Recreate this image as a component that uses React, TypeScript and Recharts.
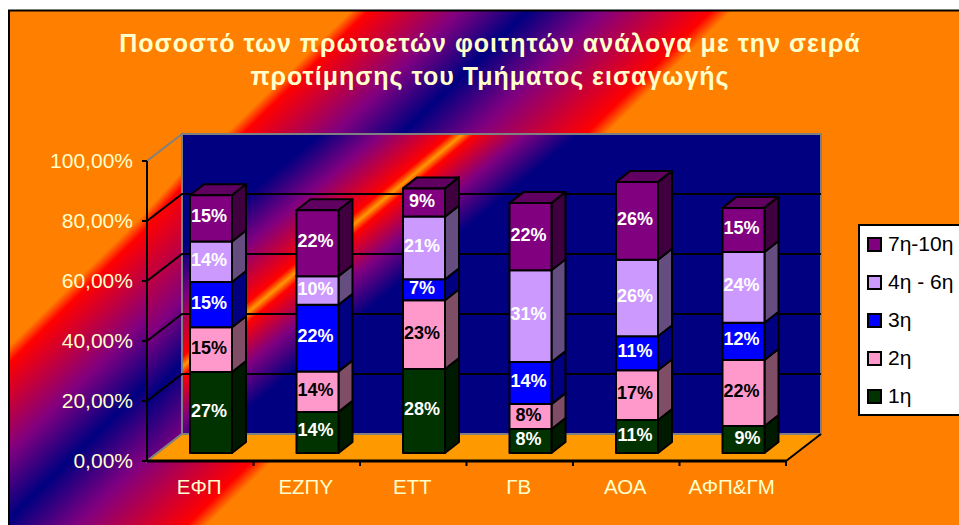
import React from 'react';
import {
  BarChart,
  Bar,
  XAxis,
  YAxis,
  CartesianGrid,
  Legend,
  LabelList,
} from 'recharts';

const categories = ['ΕΦΠ', 'ΕΖΠΥ', 'ΕΤΤ', 'ΓΒ', 'ΑΟΑ', 'ΑΦΠ&ΓΜ'];
const first = [27, 13.7, 28, 8, 11, 9];
const second = [14.9, 13.5, 22.9, 8.3, 16.6, 22];
const third = [15.1, 22.2, 7, 14, 11.3, 12.4];
const fourthToSixth = [13.5, 9.5, 20.9, 30.6, 25.5, 23.6];
const seventhToTenth = [15.4, 22, 9.4, 22.4, 25.9, 14.7];
const yTicks = [0, 20, 40, 60, 80, 100];
const titleLines = [
  'Ποσοστό των πρωτοετών φοιτητών ανάλογα με την σειρά',
  'προτίμησης του Τμήματος εισαγωγής',
];

const data = categories.map((name, i) => ({
  name,
  s1: first[i],
  s2: second[i],
  s3: third[i],
  s4: fourthToSixth[i],
  s5: seventhToTenth[i],
}));

const series = [
  { key: 's1', name: '1η', fill: '#003300', side: '#001a00', top: '#002600', label: '#fff' },
  { key: 's2', name: '2η', fill: '#ff99cc', side: '#804d66', top: '#bf7399', label: '#000' },
  { key: 's3', name: '3η', fill: '#0000ff', side: '#000080', top: '#0000bf', label: '#fff' },
  { key: 's4', name: '4η - 6η', fill: '#cc99ff', side: '#664d80', top: '#9973bf', label: '#fff' },
  { key: 's5', name: '7η-10η', fill: '#800080', side: '#400040', top: '#600060', label: '#fff' },
];

const WIDTH = 959;
const HEIGHT = 525;
const PLOT = { left: 147, right: 786, top: 161, bottom: 461 };
const DEPTH = { x: 35, y: -27 }; // back wall offset
const BAR_SHIFT = { x: 11, y: -8 }; // bars stand in the middle of the floor
const BAR_DEPTH = { x: 14, y: -11 };
const CREAM = '#ffffcc';
const FONT = '"Liberation Sans", Arial, sans-serif';

// gradient whose colour depends only on a*x + y, stops given in that unit
const Band = ({ id, a, stops }: any) => {
  const max = stops[stops.length - 1][0];
  const k = max / (a * a + 1);
  return (
    <linearGradient id={id} gradientUnits="userSpaceOnUse" x1={0} y1={0} x2={a * k} y2={k}>
      {stops.map(([v, c]: any) => (
        <stop key={v} offset={v / max} stopColor={c} />
      ))}
    </linearGradient>
  );
};

const Backdrop = () => {
  const { left, right, top, bottom } = PLOT;
  const bl = left + DEPTH.x;
  const br = right + DEPTH.x;
  const bt = top + DEPTH.y;
  const bb = bottom + DEPTH.y;
  return (
    <svg width={WIDTH} height={HEIGHT} style={{ position: 'absolute', left: 0, top: 0 }}>
      <defs>
        <Band
          id="pageFill"
          a={0.98}
          stops={[
            [0, '#ff8000'],
            [355, '#ff8000'],
            [372, '#ff0000'],
            [462, '#800080'],
            [528, '#000080'],
            [600, '#800080'],
            [708, '#ff0000'],
            [728, '#ff8000'],
            [1600, '#ff8000'],
          ]}
        />
        <Band
          id="wallFill"
          a={0.83}
          stops={[
            [0, '#000080'],
            [400, '#000080'],
            [450, '#800080'],
            [508, '#ff0000'],
            [518, '#ff9900'],
            [528, '#ff0000'],
            [570, '#800080'],
            [615, '#000080'],
            [1300, '#000080'],
          ]}
        />
        <Band
          id="sideFill"
          a={1.1}
          stops={[
            [0, '#ff8000'],
            [372, '#ff8000'],
            [387, '#ff0000'],
            [500, '#800080'],
            [563, '#000080'],
            [640, '#800080'],
          ]}
        />
      </defs>
      <rect x={9} y={10.5} width={WIDTH} height={HEIGHT} fill="url(#pageFill)" stroke="#000" strokeWidth={2} />
      {titleLines.map((line, i) => (
        <text
          key={line}
          x={490}
          y={52 + i * 33}
          textAnchor="middle"
          fill={CREAM}
          fontFamily={FONT}
          fontWeight="bold"
          fontSize={25}
          letterSpacing={1}
        >
          {line}
        </text>
      ))}
      <polygon
        points={`${left},${bottom} ${left},${top} ${bl},${bt} ${bl},${bb}`}
        fill="url(#sideFill)"
        stroke="#808080"
        strokeWidth={2}
      />
      <rect x={bl} y={bt} width={br - bl} height={bb - bt} fill="url(#wallFill)" stroke="#808080" strokeWidth={2} />
      <polygon
        points={`${left},${bottom} ${right},${bottom} ${br},${bb} ${bl},${bb}`}
        fill="#ff9900"
      />
      <line x1={left} y1={bottom} x2={bl} y2={bb} stroke="#808080" strokeWidth={2} />
      <line x1={bl} y1={bb} x2={br} y2={bb} stroke="#808080" strokeWidth={2} />
      <line x1={right} y1={bottom} x2={br} y2={bb} stroke="#000" strokeWidth={2} />
    </svg>
  );
};

// wall lines: diagonal over the side wall, then straight along the back
const WallLine = (props: any) => {
  const { x1, y1, x2 } = props;
  if (y1 <= PLOT.top + 1 || y1 >= PLOT.bottom - 1) return <g />;
  return (
    <polyline
      points={`${x1},${y1} ${x1 + DEPTH.x},${y1 + DEPTH.y} ${x2 + DEPTH.x},${y1 + DEPTH.y}`}
      fill="none"
      stroke="#000"
      strokeWidth={2}
    />
  );
};

const Box3D = (props: any) => {
  const { x, y, width, height, fill, side, top } = props;
  const l = x + BAR_SHIFT.x;
  const r = l + width;
  const t = y + BAR_SHIFT.y;
  const b = t + height;
  const dx = BAR_DEPTH.x;
  const dy = BAR_DEPTH.y;
  return (
    <g stroke="#000" strokeWidth={2} strokeLinejoin="round">
      <polygon points={`${l},${t} ${r},${t} ${r + dx},${t + dy} ${l + dx},${t + dy}`} fill={top} />
      <polygon points={`${r},${t} ${r + dx},${t + dy} ${r + dx},${b + dy} ${r},${b}`} fill={side} />
      <rect x={l} y={t} width={width} height={height} fill={fill} />
    </g>
  );
};

const BarLabel = (props: any) => {
  const { x, y, width, height, value, color, index, seriesKey } = props;
  // the 9% of the last column sits off centre in the original
  const nudge = seriesKey === 's1' && index === 5 ? 4 : -2;
  return (
    <text
      x={x + width / 2 + BAR_SHIFT.x + nudge}
      y={y + height / 2 + BAR_SHIFT.y + 4}
      textAnchor="middle"
      fill={color}
      fontFamily={FONT}
      fontWeight="bold"
      fontSize={18}
    >
      {Math.round(value)}%
    </text>
  );
};

const CategoryTick = (props: any) => {
  const { x, y, payload } = props;
  const half = (PLOT.right - PLOT.left) / categories.length / 2;
  return (
    <g>
      <line x1={x + half} y1={PLOT.bottom} x2={x + half} y2={PLOT.bottom + 5} stroke="#000" strokeWidth={2} />
      <text x={x - 1} y={y + 25} textAnchor="middle" fill={CREAM} fontFamily={FONT} fontSize={20.5}>
        {payload.value}
      </text>
    </g>
  );
};

const ValueTick = (props: any) => {
  const { x, y, payload } = props;
  return (
    <text x={x - 7} y={y + 7} textAnchor="end" fill={CREAM} fontFamily={FONT} fontSize={21}>
      {payload.value.toFixed(2).replace('.', ',')}%
    </text>
  );
};

const LegendBox = (props: any) => {
  const items = [...(props.payload || [])].reverse();
  return (
    <div
      style={{
        boxSizing: 'border-box',
        width: 120,
        height: 192,
        background: '#fff',
        border: '2px solid #000',
        padding: '0 0 0 7px',
        fontFamily: FONT,
        fontSize: 21,
        color: '#000',
      }}
    >
      <div style={{ marginTop: -1 }}>
        {items.map((item: any) => (
          <div key={item.value} style={{ display: 'flex', alignItems: 'center', height: 38, whiteSpace: 'nowrap' }}>
            <span
              style={{
                boxSizing: 'border-box',
                width: 15,
                height: 15,
                marginRight: 6,
                background: item.color,
                border: '2px solid #000',
              }}
            />
            {item.value}
          </div>
        ))}
      </div>
    </div>
  );
};

const App: React.FC = () => {
  return (
    <div style={{ position: 'absolute', left: 0, top: 0, width: WIDTH, height: HEIGHT, overflow: 'hidden', background: '#fff' }}>
      <Backdrop />
      <div style={{ position: 'absolute', left: 0, top: 0 }}>
        <BarChart
          width={WIDTH}
          height={HEIGHT}
          data={data}
          margin={{ top: PLOT.top, right: WIDTH - PLOT.right, left: 0, bottom: 0 }}
          barSize={42}
        >
          <CartesianGrid vertical={false} horizontal={WallLine} />
          <XAxis
            dataKey="name"
            height={HEIGHT - PLOT.bottom}
            axisLine={{ stroke: '#000', strokeWidth: 3 }}
            tickLine={false}
            tick={CategoryTick}
            interval={0}
          />
          <YAxis
            width={PLOT.left}
            domain={[0, 100]}
            ticks={yTicks}
            axisLine={{ stroke: '#000', strokeWidth: 2 }}
            tickLine={{ stroke: '#000', strokeWidth: 2 }}
            tickSize={5}
            tick={ValueTick}
          />
          <Legend
            layout="vertical"
            align="center"
            verticalAlign="middle"
            content={LegendBox}
            wrapperStyle={{ left: 858, top: 224, width: 120, height: 192 }}
          />
          {series.map((s) => (
            <Bar
              key={s.key}
              dataKey={s.key}
              name={s.name}
              stackId="a"
              fill={s.fill}
              isAnimationActive={false}
              shape={(p: any) => <Box3D {...p} side={s.side} top={s.top} />}
            >
              <LabelList
                dataKey={s.key}
                content={(p: any) => <BarLabel {...p} color={s.label} seriesKey={s.key} />}
              />
            </Bar>
          ))}
        </BarChart>
      </div>
    </div>
  );
};

export default App;
